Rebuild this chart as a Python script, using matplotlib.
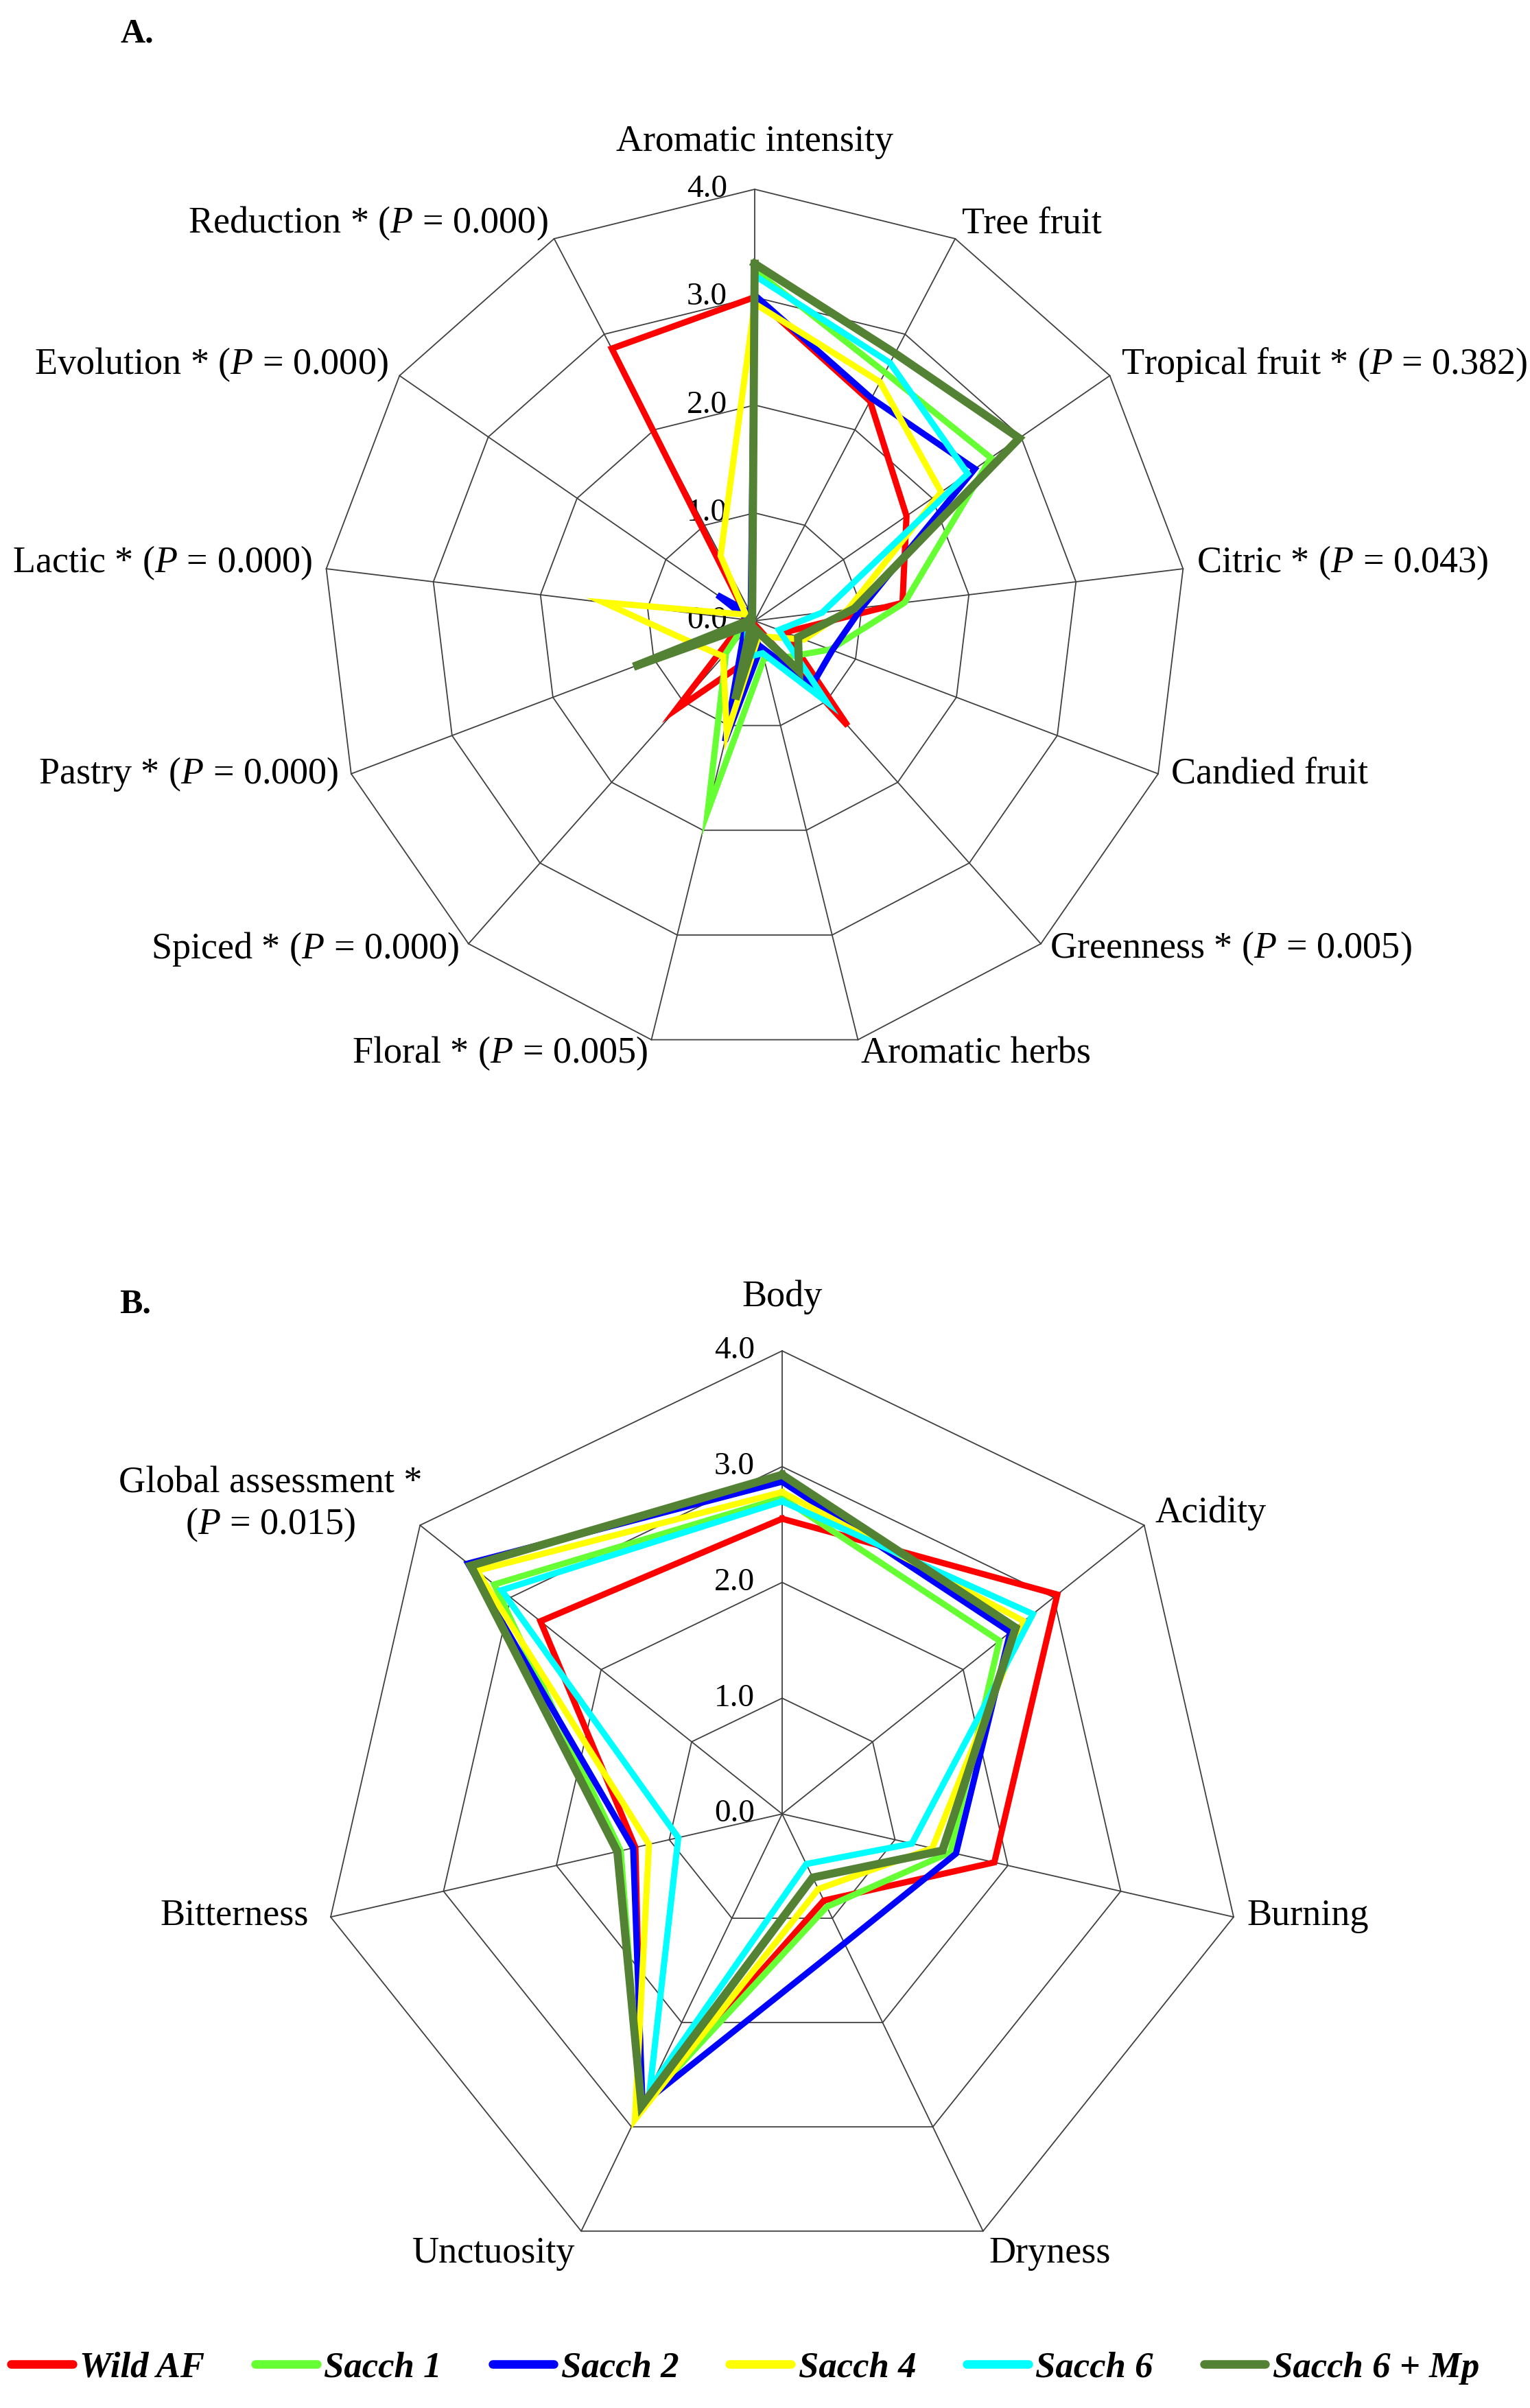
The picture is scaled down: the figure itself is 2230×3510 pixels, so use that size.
import numpy as np
import matplotlib
matplotlib.use("Agg")
import matplotlib.pyplot as plt
from matplotlib.lines import Line2D

plt.rcParams["font.family"] = "Liberation Serif"
plt.rcParams["mathtext.fontset"] = "custom"
plt.rcParams["mathtext.rm"] = "Liberation Serif"
plt.rcParams["mathtext.it"] = "Liberation Serif:italic"

# ---- data ----
names = ["Wild AF", "Sacch 1", "Sacch 2", "Sacch 4", "Sacch 6", "Sacch 6 + Mp"]
colors = ["#FF0000", "#66FF33", "#0000FF", "#FFFF00", "#00FFFF", "#548235"]

attrs_a = ["Aromatic intensity", "Tree fruit", "Tropical fruit * ($P$ = 0.382)",
           "Citric * ($P$ = 0.043)", "Candied fruit", "Greenness * ($P$ = 0.005)",
           "Aromatic herbs", "Floral * ($P$ = 0.005)", "Spiced * ($P$ = 0.000)",
           "Pastry * ($P$ = 0.000)", "Lactic * ($P$ = 0.000)",
           "Evolution * ($P$ = 0.000)", "Reduction * ($P$ = 0.000)"]
wild_a = [3.00, 2.30, 1.71, 1.38, 0.30, 1.30, 0.05, 0.40, 1.10, 0.15, 0.10, 0.10, 2.85]
sacch1_a = [3.25, 2.60, 2.66, 1.40, 0.75, 0.45, 0.36, 1.82, 0.40, 0.10, 0.05, 0.05, 0.05]
sacch2_a = [3.02, 2.33, 2.48, 1.00, 0.77, 0.80, 0.25, 1.15, 0.15, 0.10, 0.05, 0.42, 0.08]
sacch4_a = [2.94, 2.50, 2.10, 0.87, 0.49, 0.20, 0.15, 1.08, 0.44, 0.60, 1.41, 0.10, 0.68]
sacch6_a = [3.20, 2.70, 2.40, 0.63, 0.24, 1.00, 0.31, 0.35, 0.10, 0.05, 0.05, 0.05, 0.05]
sacch6mp_a = [3.31, 2.80, 2.98, 0.93, 0.43, 0.62, 0.10, 0.75, 0.05, 1.20, 0.05, 0.05, 0.05]

attrs_b = ["Body", "Acidity", "Burning", "Dryness", "Unctuosity", "Bitterness",
           "Global assessment *\n($P$ = 0.015)"]
wild_b = [2.55, 3.04, 1.88, 0.83, 2.80, 1.30, 2.67]
sacch1_b = [2.73, 2.40, 1.49, 0.89, 2.82, 1.43, 3.18]
sacch2_b = [2.87, 2.52, 1.54, 1.24, 2.78, 1.32, 3.47]
sacch4_b = [2.78, 2.67, 1.33, 0.72, 2.93, 1.18, 3.37]
sacch6_b = [2.70, 2.77, 1.15, 0.48, 2.63, 0.92, 3.10]
sacch6mp_b = [2.93, 2.58, 1.42, 0.61, 2.80, 1.46, 3.44]

ticks = [0, 1, 2, 3, 4]
grid_col = "#404040"


def radar(ax, labels, series, top_pad, bottom_extra, side_extra, special=None):
    n = len(labels)
    ang = np.arange(n) * 2 * np.pi / n
    closed = np.append(ang, ang[0])
    ax.set_theta_zero_location("N")
    ax.set_theta_direction(-1)
    ax.set_ylim(0, 4)
    ax.set_axis_off()

    for lev in ticks[1:]:
        ax.plot(closed, [lev] * (n + 1), color=grid_col, lw=1.3, clip_on=False, zorder=1)
    for a in ang:
        ax.plot([a, a], [0, 4], color=grid_col, lw=1.3, clip_on=False, zorder=1)
    for lev in ticks:
        ax.annotate(f"{lev:.1f}", xy=(0, lev), xytext=(-40, 0), textcoords="offset pixels",
                    ha="right", va="center", fontsize=34)

    lines = []
    for vals, col, lw in series:
        ln, = ax.plot(closed, np.append(vals, vals[0]), color=col, lw=lw,
                      solid_joinstyle="miter", clip_on=False, zorder=3)
        lines.append(ln)

    for i, lab in enumerate(labels):
        s, c = np.sin(ang[i]), np.cos(ang[i])
        if i == 0:
            off, ha = (0, top_pad), "center"
        else:
            dx = 20 * s
            dy = 18 * c + 6
            if c < -0.8:
                dy -= bottom_extra
            if abs(c) < 0.4:
                dx += side_extra * np.sign(s) * (1 if s < 0 else 0)
            off = (dx, dy)
            ha = "left" if s > 0 else "right"
        ma = "left"
        if special is not None and i == special[0]:
            off, ha, ma = special[1], "right", "center"
        ax.annotate(lab, xy=(ang[i], 4), xytext=off, textcoords="offset pixels",
                    ha=ha, va="center", fontsize=39, multialignment=ma)
    return lines


fig = plt.figure(figsize=(22.3, 35.1), dpi=100)

ax_a = fig.add_axes([0.2112, 0.5630, 0.5641, 0.3584], projection="polar")
series_a = [(wild_a, colors[0], 6.5), (sacch1_a, colors[1], 6.5), (sacch2_a, colors[2], 6.5),
            (sacch4_a, colors[3], 6.5), (sacch6_a, colors[4], 6.5), (sacch6mp_a, colors[5], 8.5)]
radar(ax_a, attrs_a, series_a, top_pad=69, bottom_extra=9, side_extra=0)

ax_b = fig.add_axes([0.2085, 0.0544, 0.6054, 0.3846], projection="polar")
series_b = [(wild_b, colors[0], 6.5), (sacch1_b, colors[1], 6.5), (sacch2_b, colors[2], 6.5),
            (sacch4_b, colors[3], 6.5), (sacch6_b, colors[4], 6.5), (sacch6mp_b, colors[5], 8.5)]
radar(ax_b, attrs_b, series_b, top_pad=78, bottom_extra=22, side_extra=12, special=(6, (3, 30)))

fig.text(175 / 2230, 1 - 49 / 3510, "A.", fontsize=36, weight="bold", ha="left", va="center")
fig.text(174 / 2230, 1 - 1902 / 3510, "B.", fontsize=36, weight="bold", ha="left", va="center")

handles = [Line2D([0], [0], color=c, lw=9, solid_capstyle="round") for c in colors]
fig.legend(handles, names, loc="center", bbox_to_anchor=(0.487, 0.0166), ncol=6,
           frameon=False, handlelength=1.7, handletextpad=0.2, columnspacing=1.4,
           prop=dict(family="Liberation Serif", weight="bold", style="italic", size=38))

fig.savefig("out.png", dpi=100)
